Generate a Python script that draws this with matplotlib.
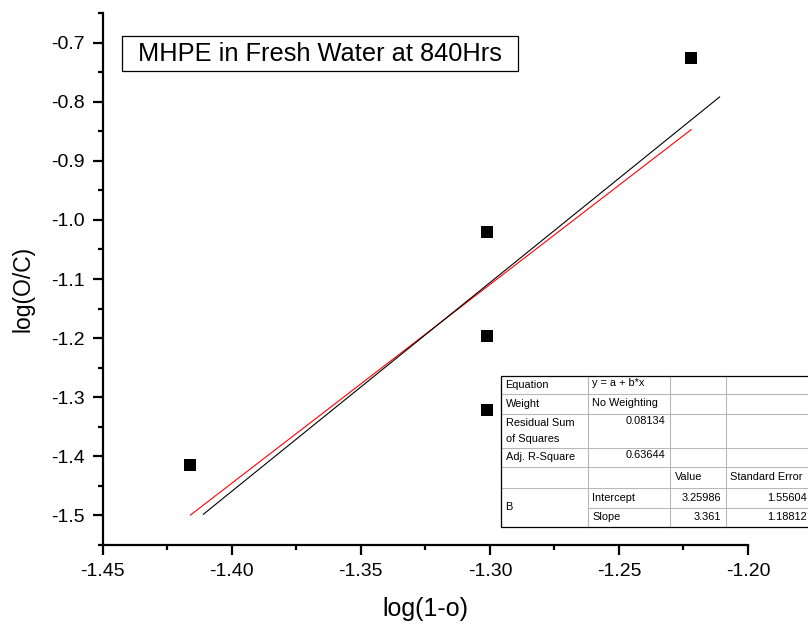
import matplotlib
matplotlib.use("Agg")
import matplotlib.pyplot as plt
from matplotlib.patches import Rectangle
from matplotlib.lines import Line2D
from matplotlib.ticker import MultipleLocator, FormatStrFormatter

plt.rcParams['font.family'] = ['Liberation Sans', 'DejaVu Sans']
plt.rcParams['axes.unicode_minus'] = False

# Measured points: log(1-o) vs log(O/C)
log_1_minus_o = [-1.416, -1.301, -1.301, -1.301, -1.222]
log_o_over_c = [-1.415, -1.020, -1.197, -1.322, -0.726]

# Linear fit y = a + b*x (values from the fit report)
fit_intercept = 3.25986
fit_slope = 3.361
fit_intercept_se = 1.55604
fit_slope_se = 1.18812
residual_ss = 0.08134
adj_r_square = 0.63644

# Second reference line (black)
ref_x = [-1.411, -1.211]
ref_y = [-1.498, -0.792]

title_text = "MHPE in Fresh Water at 840Hrs"

W, H = 808, 625
fig = plt.figure(figsize=(W / 100, H / 100), dpi=100)

def px_rect(l, t, r, b):
    return [l / W, 1 - b / H, (r - l) / W, (b - t) / H]

ax = fig.add_axes(px_rect(102.7, 13, 748, 545))
ax.scatter(log_1_minus_o, log_o_over_c, marker='s', s=66, color='black',
           linewidths=0, zorder=3)

x0, x1 = min(log_1_minus_o), max(log_1_minus_o)
ax.plot([x0, x1], [fit_intercept + fit_slope * x0, fit_intercept + fit_slope * x1],
        color='red', lw=0.8, zorder=2)
ax.plot(ref_x, ref_y, color='black', lw=0.8, zorder=2)

ax.set_xlim(-1.45, -1.20)
ax.set_ylim(-1.55, -0.65)
ax.xaxis.set_major_locator(MultipleLocator(0.05))
ax.xaxis.set_minor_locator(MultipleLocator(0.025))
ax.yaxis.set_major_locator(MultipleLocator(0.1))
ax.yaxis.set_minor_locator(MultipleLocator(0.05))
ax.xaxis.set_major_formatter(FormatStrFormatter('%.2f'))
ax.yaxis.set_major_formatter(FormatStrFormatter('%.1f'))

for side in ('top', 'right'):
    ax.spines[side].set_visible(False)
for side in ('left', 'bottom'):
    ax.spines[side].set_linewidth(1.6)

ax.tick_params(which='major', direction='out', length=7, width=1.6,
               labelsize=14, pad=6)
ax.tick_params(which='minor', direction='out', length=3.5, width=1.6)

ax.set_xlabel('log(1-o)', fontsize=18)
ax.set_ylabel('log(O/C)', fontsize=16.5)
ax.xaxis.set_label_coords(0.5, -0.098)
ax.yaxis.set_label_coords(-0.105, 0.481)

# Title box inside the plot
fig.patches.append(Rectangle(((121.7) / W, 1 - 71 / H), (518.3 - 121.7) / W,
                             (71 - 35.7) / H, transform=fig.transFigure,
                             facecolor='white', edgecolor='black', lw=0.9,
                             zorder=5))
fig.text(320 / W, 1 - 53.8 / H, title_text, fontsize=18.3, ha='center',
         va='center', zorder=6)

# Fit report table
tab = fig.add_axes(px_rect(501, 375.7, 820, 526.7))
tab.set_xlim(0, 319)
tab.set_ylim(151, 0)
tab.axis('off')
tab.add_patch(Rectangle((0, 0), 319, 151, facecolor='white', edgecolor='none',
                        zorder=0, clip_on=False))

cols = [0, 86.7, 169, 225, 311]
rows = [0, 18.6, 38.6, 72.6, 91, 112, 132, 151]
grey = '#b8b8b8'

def seg(xs, ys, color, lw, z):
    tab.add_line(Line2D(xs, ys, color=color, lw=lw, zorder=z, clip_on=False))

# inner vertical separators
for cx in cols[1:4]:
    seg([cx, cx], [0, 151], grey, 0.8, 1)
# inner horizontal separators
for ry in rows[1:6]:
    seg([0, 311], [ry, ry], grey, 0.8, 1)
seg([cols[1], 311], [rows[6], rows[6]], grey, 0.8, 1)
# outer border
seg([311, 0, 0, 311], [0, 0, 151, 151], 'black', 0.9, 2)

fs = 7.9
def cell_text(txt, col, y, align='left', va='center'):
    if align == 'left':
        x = cols[col] + 4.5
    else:
        x = cols[col + 1] - 5
    tab.text(x, y, txt, fontsize=fs, ha=align, va=va, zorder=3)

mid = lambda i: (rows[i] + rows[i + 1]) / 2

cell_text('Equation', 0, mid(0))
cell_text('y = a + b*x', 1, mid(0) - 1.5)
cell_text('Weight', 0, mid(1))
cell_text('No Weighting', 1, mid(1) - 1.5)
cell_text('Residual Sum', 0, rows[2] + 9)
cell_text('of Squares', 0, rows[2] + 25)
cell_text(f'{residual_ss:.5f}', 1, rows[2] + 7, align='right')
cell_text('Adj. R-Square', 0, mid(3))
cell_text(f'{adj_r_square:.5f}', 1, mid(3) - 2, align='right')
cell_text('Value', 2, mid(4))
cell_text('Standard Error', 3, mid(4))
cell_text('B', 0, (rows[5] + rows[7]) / 2)
cell_text('Intercept', 1, mid(5))
cell_text('Slope', 1, mid(6))
cell_text(f'{fit_intercept:.5f}', 2, mid(5), align='right')
cell_text(f'{fit_slope:g}', 2, mid(6), align='right')
cell_text(f'{fit_intercept_se:.5f}', 3, mid(5), align='right')
cell_text(f'{fit_slope_se:.5f}', 3, mid(6), align='right')

fig.savefig('out.png', dpi=100)
